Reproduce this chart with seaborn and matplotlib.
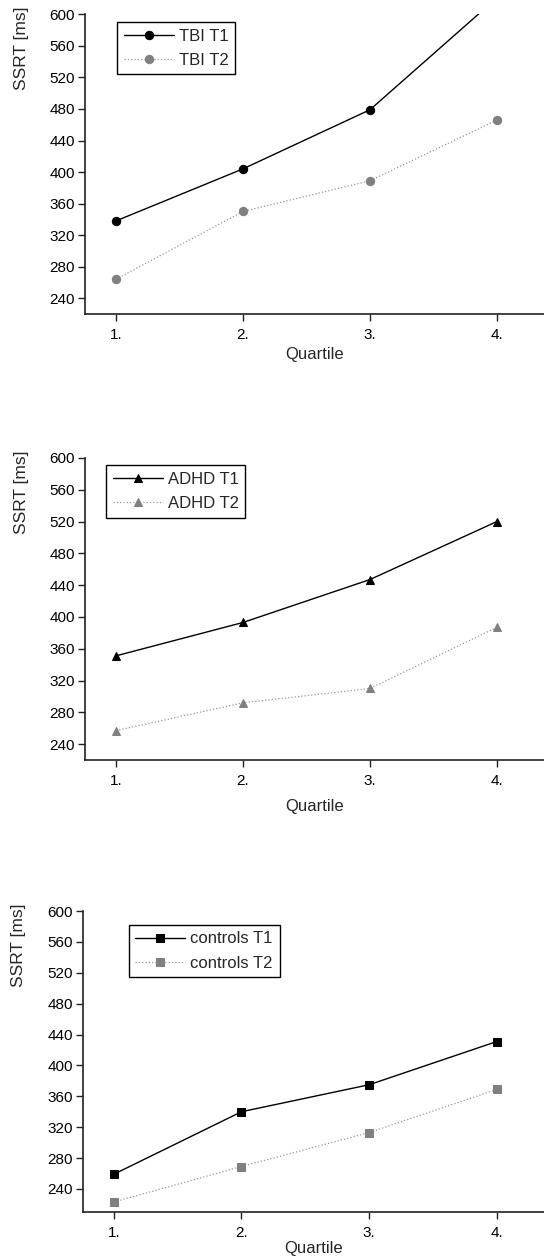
import numpy as np
import pandas as pd
import matplotlib
matplotlib.use('Agg')
import matplotlib.pyplot as plt
import seaborn as sns

# values
quartiles = [1, 2, 3, 4]
quartile_labels = ['1.', '2.', '3.', '4.']

tbi_t1 = [338, 404, 479, 621]
tbi_t2 = [264, 350, 389, 466]
adhd_t1 = [351, 393, 447, 520]
adhd_t2 = [257, 292, 310, 387]
ctrl_t1 = [259, 340, 375, 431]
ctrl_t2 = [223, 269, 313, 369]

sns.set_style('ticks')
plt.rcParams['font.family'] = ['Liberation Sans', 'DejaVu Sans']

fig = plt.figure(figsize=(5.44, 12.59), dpi=100)

# (axes rect, ylim bottom, legend anchor, xlabel pad, series, marker)
panels = [
    ((0.156, 0.7506, 0.844, 0.238), 220, (0.07, 0.975), 4,
     ('TBI T1', tbi_t1), ('TBI T2', tbi_t2), 'o'),
    ((0.156, 0.3963, 0.844, 0.240), 220, (0.046, 0.976), 8,
     ('ADHD T1', adhd_t1), ('ADHD T2', adhd_t2), '^'),
    ((0.152, 0.0373, 0.848, 0.239), 210, (0.10, 0.955), 0.5,
     ('controls T1', ctrl_t1), ('controls T2', ctrl_t2), 's'),
]

for rect, ybot, leg_anchor, xpad, s1, s2, mk in panels:
    ax = fig.add_axes(rect)
    msize = 6 if mk != 's' else 5.5
    sns.lineplot(x=quartiles, y=s1[1], ax=ax, color='black', linestyle='-',
                 linewidth=1.0, marker=mk, markersize=msize,
                 markeredgecolor='black', markerfacecolor='black', label=s1[0])
    sns.lineplot(x=quartiles, y=s2[1], ax=ax, color='#999999', linestyle=':',
                 linewidth=0.9, marker=mk, markersize=msize,
                 markeredgecolor='#808080', markerfacecolor='#808080', label=s2[0])

    ax.set_ylim(ybot, 600)
    ax.set_xlim(0.756, 4.37)
    ax.set_yticks(np.arange(240, 601, 40))
    ax.set_xticks(quartiles)
    ax.set_xticklabels(quartile_labels)
    ax.tick_params(axis='both', labelsize=11, direction='out', length=5,
                   width=1.0, color='#222222', labelcolor='black')
    ax.tick_params(axis='x', pad=5)
    ax.tick_params(axis='y', pad=2)
    sns.despine(ax=ax)
    for sp in ['left', 'bottom']:
        ax.spines[sp].set_linewidth(1.2)
        ax.spines[sp].set_color('#222222')

    ax.set_xlabel('Quartile', fontsize=12, labelpad=xpad)
    ax.set_ylabel('SSRT [ms]', fontsize=12.5, loc='top')
    ax.yaxis.set_label_coords(-0.122, 1.025)

    leg = ax.legend(loc='upper left', bbox_to_anchor=leg_anchor, fontsize=12,
                    frameon=True, fancybox=False, shadow=False, framealpha=1,
                    handlelength=3.0, handletextpad=0.3, borderpad=0.4,
                    labelspacing=0.55, borderaxespad=0)
    leg.get_frame().set_edgecolor('black')
    leg.get_frame().set_linewidth(1.0)

fig.savefig('out.png', dpi=100)
